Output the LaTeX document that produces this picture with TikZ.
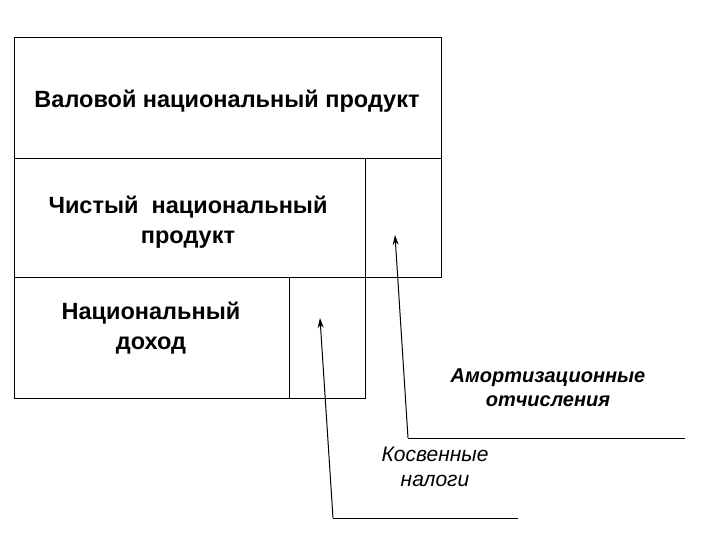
\documentclass[tikz,border=0pt]{standalone}
\usepackage{fontspec}
\setmainfont{Liberation Sans}
\usetikzlibrary{arrows.meta}
\begin{document}
\begin{tikzpicture}[x=1pt,y=-1pt,
  box/.style={draw,line width=0.8pt},
  lbl/.style={font=\fontsize{23.5}{30}\selectfont\bfseries,align=center},
  ilbl/.style={font=\fontsize{21}{25}\selectfont\itshape,align=center},
  arr/.style={-{Stealth[length=10pt,width=6pt]},line width=1pt}]
\useasboundingbox (0,0) rectangle (720,540);
\draw[box] (14,37) rectangle (441,158);
\draw[box] (14,158) rectangle (441,277);
\draw[box] (365,158) -- (365,277);
\draw[box] (14,277) rectangle (365,398);
\draw[box] (289,277) -- (289,398);
\node[lbl] (gnp) at (227,101) {Валовой национальный продукт};
\node[lbl] (nnp) at (188,222) {Чистый\ \ национальный\\продукт};
\node[lbl] (ni) at (151,328) {Национальный\\доход};
\node[ilbl,font=\fontsize{20}{24}\selectfont\bfseries\itshape] (am) at (548,388) {Амортизационные\\отчисления};
\node[ilbl] (kn) at (435,467) {Косвенные\\налоги};
\coordinate (a1) at (685,438); \coordinate (a2) at (408,438); \coordinate (a3) at (395,235);
\coordinate (b1) at (518,518); \coordinate (b2) at (333,518); \coordinate (b3) at (320,318);
\draw[line width=1pt] (a1) -- (a2);
\draw[arr] (a2) -- (a3);
\draw[line width=1pt] (b1) -- (b2);
\draw[arr] (b2) -- (b3);
\end{tikzpicture}
\end{document}
